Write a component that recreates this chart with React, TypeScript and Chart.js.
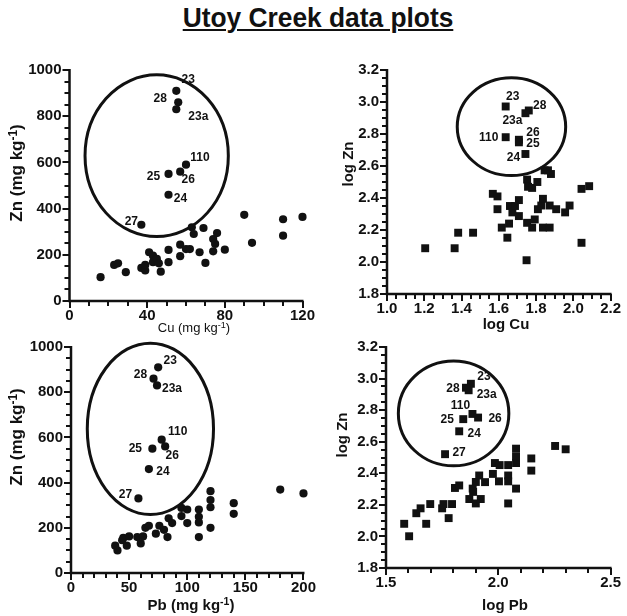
import React, { useEffect, useRef } from "react";
import { Chart, registerables } from "chart.js";

Chart.register(...registerables);

// ---------------- DATA ----------------
// Panel 1: Zn vs Cu (mg/kg)
const cuValues = [16, 23, 25, 29, 37, 39, 39, 41, 43, 43, 45, 46, 47, 51, 51, 57, 57, 60, 62, 63, 64, 67, 69, 70, 74, 74, 76, 75, 80, 90, 94, 110, 110, 120];
const znVsCuValues = [103, 156, 163, 125, 143, 132, 156, 211, 196, 168, 182, 163, 127, 221, 168, 244, 194, 225, 225, 319, 290, 211, 316, 165, 268, 215, 294, 247, 222, 373, 252, 354, 283, 364];
const cuSiteLabels = ["23", "28", "23a", "110", "26", "25", "24", "27"];
const cuSiteValues = [55, 56, 55, 60, 57, 51, 51, 37];
const znCuSiteValues = [910, 860, 830, 590, 560, 550, 460, 330];

// Panel 2: log Zn vs log Cu
const logCuValues = [1.205, 1.363, 1.382, 1.462, 1.568, 1.593, 1.593, 1.616, 1.646, 1.655, 1.66, 1.673, 1.687, 1.708, 1.708, 1.752, 1.757, 1.779, 1.807, 1.752, 1.779, 1.793, 1.81, 1.828, 1.837, 1.846, 1.864, 1.88, 1.837, 1.873, 1.873, 1.908, 1.956, 1.98, 1.749, 2.044, 2.044, 2.085];
const logZnVsLogCuValues = [2.086, 2.086, 2.183, 2.183, 2.426, 2.41, 2.33, 2.215, 2.152, 2.24, 2.35, 2.31, 2.35, 2.387, 2.287, 2.515, 2.47, 2.463, 2.5, 2.245, 2.215, 2.266, 2.33, 2.353, 2.395, 2.573, 2.573, 2.55, 2.215, 2.215, 2.353, 2.33, 2.31, 2.353, 2.011, 2.12, 2.457, 2.474];
const logCuSiteLabels = ["23", "28", "23a", "110", "26", "25", "24"];
const logCuSiteValues = [1.637, 1.761, 1.743, 1.637, 1.708, 1.708, 1.743];
const logZnLogCuSiteValues = [2.972, 2.947, 2.93, 2.78, 2.764, 2.748, 2.675];

// Panel 3: Zn vs Pb (mg/kg)
const pbValues = [38, 40, 44, 45, 48, 50, 57, 60, 62, 64, 67, 73, 76, 80, 83, 84, 87, 95, 95, 100, 100, 110, 110, 110, 110, 120, 120, 120, 120, 140, 140, 180, 200];
const znVsPbValues = [121, 100, 145, 155, 121, 162, 159, 131, 162, 200, 209, 174, 209, 191, 159, 242, 221, 288, 252, 281, 221, 281, 249, 224, 159, 362, 323, 291, 200, 309, 262, 369, 352];
const pbSiteLabels = ["23", "28", "23a", "110", "26", "25", "24", "27"];
const pbSiteValues = [75, 71, 74, 78, 81, 70, 67, 58];
const znPbSiteValues = [910, 860, 830, 590, 560, 550, 460, 330];

// Panel 4: log Zn vs log Pb
const logPbValues = [1.581, 1.603, 1.635, 1.654, 1.679, 1.697, 1.75, 1.756, 1.779, 1.794, 1.807, 1.826, 1.871, 1.886, 1.888, 1.9, 1.915, 1.9, 1.922, 1.941, 1.976, 1.985, 2.003, 2.006, 2.044, 2.044, 2.044, 2.044, 2.079, 2.079, 2.079, 2.079, 2.147, 2.147, 2.253, 2.3];
const logZnVsLogPbValues = [2.08, 2.001, 2.147, 2.178, 2.08, 2.205, 2.178, 2.205, 2.116, 2.205, 2.307, 2.323, 2.237, 2.303, 2.282, 2.345, 2.386, 2.209, 2.237, 2.344, 2.396, 2.465, 2.349, 2.452, 2.452, 2.386, 2.349, 2.209, 2.556, 2.507, 2.465, 2.303, 2.494, 2.417, 2.573, 2.552];
const logPbSiteLabels = ["23", "28", "23a", "110", "26", "25", "24", "27"];
const logPbSiteValues = [1.878, 1.856, 1.868, 1.885, 1.91, 1.844, 1.826, 1.763];
const logZnLogPbSiteValues = [2.967, 2.942, 2.926, 2.776, 2.753, 2.743, 2.666, 2.521];

// Tick labels
const cuTicks = [0, 40, 80, 120];
const znTicks = [0, 200, 400, 600, 800, 1000];
const pbTicks = [0, 50, 100, 150, 200];
const logCuTicks = [1.0, 1.2, 1.4, 1.6, 1.8, 2.0, 2.2];
const logZnTicks = [1.8, 2.0, 2.2, 2.4, 2.6, 2.8, 3.0, 3.2];
const logPbTicks = [1.5, 2.0, 2.5];

// Outlier-group ellipses (data units: centre x, centre y, radius x, radius y)
const cuEllipse = [44.9, 629, 36.9, 350];
const logCuEllipse = [1.668, 2.846, 0.291, 0.306];
const pbEllipse = [68.3, 638, 54.3, 379];
const logPbEllipse = [1.801, 2.779, 0.246, 0.332];

// ---------------- LAYOUT / STYLE ----------------
const INK = "#111111";
const FONT = '"Liberation Sans", Arial, Helvetica, sans-serif';

// label offsets in pixels (centre of text relative to point)
const cuLabelOffsets = [[12, -11], [-18, -4], [22, 7], [14, -7], [8, 8], [-15, 3], [12, 4], [-10, -3]];
const logCuLabelOffsets = [[7, -10], [11, -5], [-13, 7], [-17, 0], [14, -7], [14, 1], [-12, 4]];
const pbLabelOffsets = [[12, -7], [-13, -4], [15, 3], [16, -8], [7, 9], [-17, 0], [14, 3], [-13, -4]];
const logPbLabelOffsets = [[13, -7], [-13, 1], [18, 4], [-12, -8], [17, 1], [-16, 1], [15, 2], [14, -1]];

type Panel = {
  canvas: [number, number, number, number]; // left, top, width, height (page px)
  plot: [number, number, number, number]; // left, top, right, bottom (page px)
  yWidth: number;
  xHeight: number;
  xMin: number; xMax: number; xTicks: number[]; xMinor: number;
  yMin: number; yMax: number; yTicks: number[]; yMinor: number;
  decimals: number;
  bgX: number[]; bgY: number[];
  siteX: number[]; siteY: number[]; siteLabels: string[];
  offsets: number[][];
  ellipse: number[];
  pointStyle: "circle" | "rect";
  radius: number;
};

const panels: Panel[] = [
  {
    canvas: [0, 40, 322, 290], plot: [69.5, 70, 302.5, 301], yWidth: 60, xHeight: 25,
    xMin: 0, xMax: 120, xTicks: cuTicks, xMinor: 10,
    yMin: 0, yMax: 1000, yTicks: znTicks, yMinor: 50, decimals: 0,
    bgX: cuValues, bgY: znVsCuValues, siteX: cuSiteValues, siteY: znCuSiteValues, siteLabels: cuSiteLabels,
    offsets: cuLabelOffsets, ellipse: cuEllipse, pointStyle: "circle", radius: 4.1,
  },
  {
    canvas: [322, 40, 305, 290], plot: [387, 70, 614, 294], yWidth: 56, xHeight: 25,
    xMin: 1.0, xMax: 2.2, xTicks: logCuTicks, xMinor: 0.05,
    yMin: 1.8, yMax: 3.2, yTicks: logZnTicks, yMinor: 0.05, decimals: 1,
    bgX: logCuValues, bgY: logZnVsLogCuValues, siteX: logCuSiteValues, siteY: logZnLogCuSiteValues, siteLabels: logCuSiteLabels,
    offsets: logCuLabelOffsets, ellipse: logCuEllipse, pointStyle: "rect", radius: 5.6,
  },
  {
    canvas: [0, 330, 322, 286], plot: [71, 340, 306, 573], yWidth: 62, xHeight: 25,
    xMin: 0, xMax: 200, xTicks: pbTicks, xMinor: 10,
    yMin: 0, yMax: 1000, yTicks: znTicks, yMinor: 50, decimals: 0,
    bgX: pbValues, bgY: znVsPbValues, siteX: pbSiteValues, siteY: znPbSiteValues, siteLabels: pbSiteLabels,
    offsets: pbLabelOffsets, ellipse: pbEllipse, pointStyle: "circle", radius: 4.1,
  },
  {
    canvas: [322, 330, 305, 286], plot: [386, 343, 613, 568], yWidth: 55, xHeight: 25,
    xMin: 1.5, xMax: 2.5, xTicks: logPbTicks, xMinor: 0.1,
    yMin: 1.8, yMax: 3.2, yTicks: logZnTicks, yMinor: 0.05, decimals: 1,
    bgX: logPbValues, bgY: logZnVsLogPbValues, siteX: logPbSiteValues, siteY: logZnLogPbSiteValues, siteLabels: logPbSiteLabels,
    offsets: logPbLabelOffsets, ellipse: logPbEllipse, pointStyle: "rect", radius: 5.6,
  },
];

function isOnList(v: number, list: number[]) {
  return list.some((t) => Math.abs(t - v) < 1e-7);
}

function makeDecor(p: Panel) {
  return {
    id: "decor",
    afterDraw(chart: any) {
      const { ctx, chartArea: a, scales } = chart;
      const xs = scales.x;
      const ys = scales.y;
      ctx.save();
      // ellipse
      const [ecx, ecy, erx, ery] = p.ellipse;
      const cx = xs.getPixelForValue(ecx);
      const cy = ys.getPixelForValue(ecy);
      const rx = Math.abs(xs.getPixelForValue(ecx + erx) - cx);
      const ry = Math.abs(ys.getPixelForValue(ecy + ery) - cy);
      ctx.beginPath();
      ctx.ellipse(cx, cy, rx, ry, 0, 0, Math.PI * 2);
      ctx.lineWidth = 3;
      ctx.strokeStyle = INK;
      ctx.stroke();

      // point labels
      const meta = chart.getDatasetMeta(1);
      ctx.fillStyle = INK;
      ctx.font = `bold 12px ${FONT}`;
      ctx.textAlign = "center";
      ctx.textBaseline = "middle";
      p.siteLabels.forEach((t, i) => {
        const el = meta.data[i];
        if (!el) return;
        const [dx, dy] = p.offsets[i];
        ctx.fillText(t, el.x + dx, el.y + dy);
      });

      // tick marks
      ctx.strokeStyle = INK;
      ctx.lineWidth = 2;
      ctx.lineCap = "butt";
      ctx.beginPath();
      const nx = Math.round((p.xMax - p.xMin) / p.xMinor);
      for (let i = 0; i <= nx; i++) {
        const v = p.xMin + i * p.xMinor;
        const px = Math.round(xs.getPixelForValue(v));
        const len = isOnList(v, p.xTicks) ? 7 : 5;
        ctx.moveTo(px, a.bottom);
        ctx.lineTo(px, a.bottom + len);
      }
      const ny = Math.round((p.yMax - p.yMin) / p.yMinor);
      for (let i = 0; i <= ny; i++) {
        const v = p.yMin + i * p.yMinor;
        const py = Math.round(ys.getPixelForValue(v));
        const len = isOnList(v, p.yTicks) ? 7 : 5;
        ctx.moveTo(a.left, py);
        ctx.lineTo(a.left - len, py);
      }
      ctx.stroke();

      // axis lines
      ctx.strokeStyle = INK;
      ctx.lineWidth = 2.5;
      ctx.beginPath();
      ctx.moveTo(a.left, a.top - 1);
      ctx.lineTo(a.left, a.bottom);
      ctx.lineTo(a.right + 1, a.bottom);
      ctx.stroke();
      ctx.restore();
    },
  };
}

function PanelChart({ p }: { p: Panel }) {
  const ref = useRef<HTMLCanvasElement | null>(null);
  useEffect(() => {
    if (!ref.current) return;
    const [cl, ct, cw, ch] = p.canvas;
    const [pl, pt, pr, pb] = p.plot;
    const padLeft = pl - cl - p.yWidth;
    const padTop = pt - ct;
    const padRight = cl + cw - pr;
    const padBottom = ct + ch - pb - p.xHeight;
    const tickFont = { family: FONT, size: 15, weight: "bold" as const };
    const fmt = (v: any) => Number(v).toFixed(p.decimals);
    const pointCommon = {
      pointStyle: p.pointStyle,
      pointRadius: p.radius,
      pointHoverRadius: p.radius,
      backgroundColor: INK,
      borderWidth: 0,
      showLine: false,
      clip: false as any,
    };
    const chart = new Chart(ref.current, {
      type: "scatter",
      data: {
        datasets: [
          { ...pointCommon, data: p.bgX.map((x, i) => ({ x, y: p.bgY[i] })) },
          { ...pointCommon, data: p.siteX.map((x, i) => ({ x, y: p.siteY[i] })) },
        ],
      },
      options: {
        animation: false,
        responsive: false,
        events: [],
        layout: { padding: { left: padLeft, top: padTop, right: padRight, bottom: padBottom } },
        plugins: { legend: { display: false }, tooltip: { enabled: false } },
        scales: {
          x: {
            type: "linear",
            position: "bottom",
            min: p.xMin,
            max: p.xMax,
            afterFit: (s: any) => { s.height = p.xHeight; },
            afterBuildTicks: (s: any) => { s.ticks = p.xTicks.map((v) => ({ value: v })); },
            ticks: { autoSkip: false, maxRotation: 0, padding: 6, font: tickFont, color: INK, callback: fmt },
            grid: { display: false, drawTicks: false },
            border: { display: false },
          },
          y: {
            type: "linear",
            position: "left",
            min: p.yMin,
            max: p.yMax,
            afterFit: (s: any) => { s.width = p.yWidth; },
            afterBuildTicks: (s: any) => { s.ticks = p.yTicks.map((v) => ({ value: v })); },
            ticks: { autoSkip: false, padding: 8, font: tickFont, color: INK, callback: fmt },
            grid: { display: false, drawTicks: false },
            border: { display: false },
          },
        },
      } as any,
      plugins: [makeDecor(p)],
    });
    return () => chart.destroy();
  }, [p]);
  const [cl, ct, cw, ch] = p.canvas;
  return (
    <canvas
      ref={ref}
      width={cw}
      height={ch}
      style={{ position: "absolute", left: cl, top: ct, width: cw, height: ch }}
    />
  );
}

const supStyle: React.CSSProperties = {
  fontSize: "0.7em",
  verticalAlign: "baseline",
  position: "relative",
  top: "-0.45em",
  lineHeight: 0,
};

function Unit({ name }: { name: string }) {
  return (
    <>
      {name} (mg kg<sup style={supStyle}>-1</sup>)
    </>
  );
}

function HTitle({ x, baseline, size, bold, children }: any) {
  return (
    <div
      style={{
        position: "absolute",
        left: x,
        top: baseline - 0.8465 * size,
        transform: "translateX(-50%)",
        fontSize: size,
        lineHeight: `${size}px`,
        fontWeight: bold ? "bold" : "normal",
        whiteSpace: "nowrap",
      }}
    >
      {children}
    </div>
  );
}

function VTitle({ x, y, size, children }: any) {
  return (
    <div
      style={{
        position: "absolute",
        left: x,
        top: y,
        transform: "translate(-50%, -50%) rotate(-90deg)",
        fontSize: size,
        lineHeight: `${size}px`,
        fontWeight: "bold",
        whiteSpace: "nowrap",
      }}
    >
      {children}
    </div>
  );
}

export default function App() {
  return (
    <div
      style={{
        position: "absolute",
        left: 0,
        top: 0,
        width: 627,
        height: 616,
        background: "#ffffff",
        overflow: "hidden",
        fontFamily: FONT,
        color: INK,
      }}
    >
      <div
        style={{
          position: "absolute",
          left: 317.5,
          top: 4.3,
          transform: "translateX(-50%) scaleX(0.94)",
          fontSize: 28,
          lineHeight: "28px",
          fontWeight: "bold",
          whiteSpace: "nowrap",
          textDecoration: "underline",
          textDecorationThickness: "2px",
          textUnderlineOffset: "2px",
        }}
      >
        Utoy Creek data plots
      </div>
      {panels.map((p, i) => (
        <PanelChart key={i} p={p} />
      ))}
      <VTitle x={15.5} y={173} size={17}><Unit name="Zn" /></VTitle>
      <VTitle x={16} y={437} size={17}><Unit name="Zn" /></VTitle>
      <VTitle x={347} y={164} size={15}>log Zn</VTitle>
      <VTitle x={341} y={435} size={15}>log Zn</VTitle>
      <HTitle x={194} baseline={332} size={13} bold={false}><Unit name="Cu" /></HTitle>
      <HTitle x={506} baseline={329} size={15} bold>log Cu</HTitle>
      <HTitle x={191} baseline={609.5} size={15} bold><Unit name="Pb" /></HTitle>
      <HTitle x={505} baseline={610} size={15} bold>log Pb</HTitle>
    </div>
  );
}
